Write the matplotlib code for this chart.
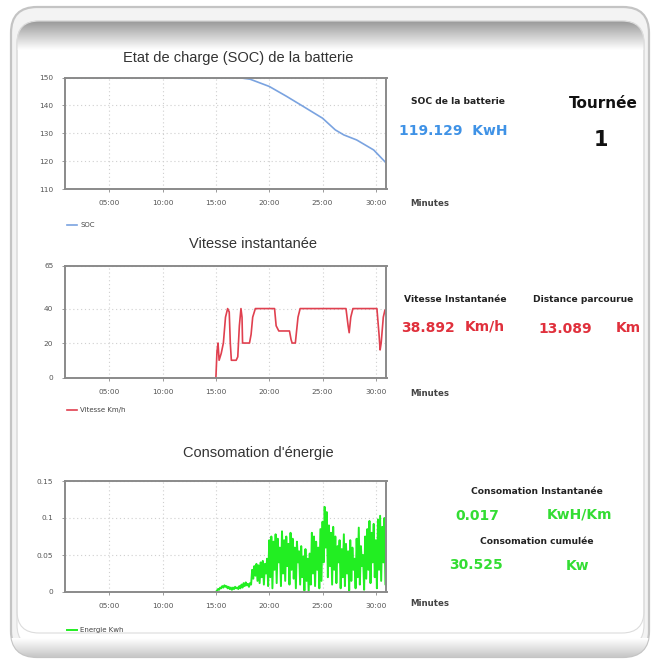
import numpy as np
import matplotlib
matplotlib.use("Agg")
import matplotlib.pyplot as plt
from matplotlib.patches import FancyBboxPatch
from matplotlib.ticker import FuncFormatter, FixedLocator

# ---------------- data ----------------
soc_t = [0.8, 5, 10, 15, 17.0, 18.2, 20.0, 21.6, 23.2, 25.0, 26.2, 27.0, 28.2, 29.8, 31.0]
soc_v = [150, 150, 150, 150, 150, 149.4, 146.8, 143.3, 139.6, 135.4, 131.2, 129.4, 127.6, 124.0, 119.2]

spd_t = [15.0, 15.1, 15.2, 15.3, 15.5, 15.7, 15.9, 16.1, 16.25, 16.35, 16.45, 16.9, 17.05, 17.2,
         17.35, 17.45, 17.5, 18.15, 18.3, 18.45, 18.7, 20.5, 20.65, 20.9, 21.9, 22.05, 22.15,
         22.45, 22.7, 22.9, 27.2, 27.4, 27.5, 27.65, 27.85, 30.1, 30.3, 30.4, 30.5, 30.7, 30.85]
spd_v = [0, 15, 20, 10, 14, 20, 35, 40, 38, 20, 10, 10, 12, 30,
         40, 35, 20, 20, 25, 35, 40, 40, 30, 27, 27, 22, 20,
         20, 35, 40, 40, 30, 26, 35, 40, 40, 25, 16, 20, 35, 39]

en_start = 15.0
en_step = 0.1
en_v = [0.000, 0.002, 0.004, 0.003, 0.006, 0.005, 0.008, 0.006, 0.009, 0.007,
        0.008, 0.005, 0.007, 0.004, 0.006, 0.003, 0.006, 0.004, 0.007, 0.005,
        0.006, 0.004, 0.008, 0.005, 0.010, 0.006, 0.012, 0.008, 0.013, 0.009,
        0.011, 0.007, 0.012, 0.010, 0.030, 0.018, 0.035, 0.022, 0.038, 0.015,
        0.036, 0.012, 0.040, 0.020, 0.042, 0.010, 0.038, 0.025, 0.045, 0.008,
        0.070, 0.020, 0.075, 0.005, 0.068, 0.030, 0.078, 0.012, 0.072, 0.040,
        0.060, 0.008, 0.082, 0.025, 0.070, 0.015, 0.075, 0.035, 0.065, 0.010,
        0.080, 0.030, 0.072, 0.018, 0.060, 0.005, 0.068, 0.040, 0.055, 0.010,
        0.062, 0.020, 0.048, 0.002, 0.058, 0.015, 0.045, 0.000, 0.052, 0.010,
        0.080, 0.025, 0.075, 0.008, 0.068, 0.030, 0.060, 0.005, 0.085, 0.015,
        0.095, 0.040, 0.115, 0.060, 0.108, 0.020, 0.090, 0.035, 0.080, 0.010,
        0.088, 0.030, 0.075, 0.012, 0.062, 0.040, 0.070, 0.005, 0.058, 0.020,
        0.078, 0.008, 0.065, 0.025, 0.055, 0.002, 0.070, 0.015, 0.060, 0.030,
        0.045, 0.005, 0.072, 0.020, 0.087, 0.010, 0.062, 0.035, 0.050, 0.003,
        0.075, 0.018, 0.085, 0.030, 0.096, 0.012, 0.080, 0.040, 0.092, 0.020,
        0.070, 0.005, 0.098, 0.030, 0.103, 0.015, 0.088, 0.040, 0.100, 0.010,
        0.085]
en_t = en_start + en_step * np.arange(len(en_v))

x_ticks = [5, 10, 15, 20, 25, 30]
soc_yticks = [110, 120, 130, 140, 150]
spd_yticks = [0, 20, 40, 65]
en_yticks = [0, 0.05, 0.1, 0.15]

# ---------------- figure ----------------
W, H = 656, 662
fig = plt.figure(figsize=(W / 100, H / 100), dpi=100)
fig.patch.set_facecolor("white")

bg = fig.add_axes([0, 0, 1, 1], zorder=-5)
bg.set_xlim(0, W)
bg.set_ylim(H, 0)
bg.axis("off")

outer = FancyBboxPatch((11, 7), 638, 650, boxstyle="round,pad=0,rounding_size=26",
                       fc="#f3f3f3", ec="#c4c4c4", lw=1.6)
bg.add_patch(outer)
inner = FancyBboxPatch((17, 21), 627, 626, boxstyle="round,pad=0,rounding_size=22",
                       fc="white", ec="#dcdcdc", lw=0.8)
bg.add_patch(inner)
grad = np.linspace(0.60, 1.0, 64).reshape(-1, 1)
im = bg.imshow(grad, extent=[17, 644, 50, 21], cmap="gray", vmin=0, vmax=1,
               aspect="auto", interpolation="bicubic", zorder=2)
im.set_clip_path(inner)
bot = np.linspace(1.0, 0.78, 32).reshape(-1, 1)
im2 = bg.imshow(bot, extent=[11, 649, 657, 638], cmap="gray", vmin=0, vmax=1,
                aspect="auto", interpolation="bicubic", zorder=1)
im2.set_clip_path(outer)
bg.add_patch(FancyBboxPatch((17, 21), 627, 612, boxstyle="round,pad=0,rounding_size=22",
                            fc="none", ec="#dcdcdc", lw=0.8, zorder=3))

tick_fmt = FuncFormatter(lambda v, p: f"{int(round(v)):02d}:00")


def make_axes(top_px, bot_px):
    l, r = 64.5, 386.5
    ax = fig.add_axes([l / W, (H - bot_px) / H, (r - l) / W, (bot_px - top_px) / H])
    ax.set_xlim(0.8, 31.0)
    ax.xaxis.set_major_locator(FixedLocator(x_ticks))
    ax.xaxis.set_major_formatter(tick_fmt)
    for s in ax.spines.values():
        s.set_color("#8a8a8a")
        s.set_linewidth(1.4)
    ax.grid(True, linestyle=(0, (1, 2.5)), color="#cfcfcf", linewidth=0.8)
    ax.tick_params(length=2, width=0.6, color="#8a8a8a", labelsize=5.3,
                   labelcolor="#555555", pad=6)
    for lab in ax.get_xticklabels() + ax.get_yticklabels():
        lab.set_family("DejaVu Sans")
    return ax


def legend(ax, bot_px, y_px, label):
    h = ax.get_position().height * H
    ax.legend([label], loc="center left",
              bbox_to_anchor=((67 - 64.5) / 322, -(y_px - bot_px) / h),
              frameon=False, fontsize=5, handlelength=1.4, handletextpad=0.5,
              borderpad=0, borderaxespad=0, labelcolor="#444444")


title_kw = dict(family="Liberation Sans", size=10.5, color="#333333")

# chart 1
ax1 = make_axes(77.5, 189)
ax1.plot(soc_t, soc_v, color="#7aa3e0", lw=1.2, label="SOC")
ax1.set_ylim(110, 150)
ax1.set_yticks(soc_yticks)
legend(ax1, 189, 225, "SOC")
bg.text(238, 58, "Etat de charge (SOC) de la batterie", ha="center", va="center", **title_kw)

# chart 2
ax2 = make_axes(265.5, 377.5)
ax2.plot(spd_t, spd_v, color="#e0404f", lw=1.2, label="Vitesse Km/h")
ax2.set_ylim(0, 65)
ax2.set_yticks(spd_yticks)
legend(ax2, 377.5, 410, "Vitesse Km/h")
bg.text(253, 244, "Vitesse instantanée", ha="center", va="center", **title_kw)

# chart 3
ax3 = make_axes(481, 592)
ax3.plot(en_t, en_v, color="#22ee22", lw=1.4, label="Energie Kwh")
ax3.set_ylim(0, 0.15)
ax3.set_yticks(en_yticks)
ax3.yaxis.set_major_formatter(FuncFormatter(lambda v, p: f"{v:g}"))
legend(ax3, 592, 630, "Energie Kwh")
bg.text(258, 453, "Consomation d'énergie", ha="center", va="center", **title_kw)

for y in (203, 393, 604):
    bg.text(410, y, "Minutes", ha="left", va="center", fontsize=6.2,
            color="#444444", family="DejaVu Sans", fontweight="bold")

# right-side readouts
lab_kw = dict(ha="center", va="center", fontsize=6.6, color="#222222",
              family="DejaVu Sans", fontweight="bold")
val_kw = dict(ha="center", va="center", fontsize=10, family="DejaVu Sans",
              fontweight="bold")

bg.text(458, 102, "SOC de la batterie", **lab_kw)
bg.text(453, 131, "119.129  KwH", color="#3f92e6", **val_kw)
bg.text(603, 103, "Tournée", ha="center", va="center", fontsize=11,
        family="DejaVu Sans", fontweight="bold", color="#111111")
bg.text(601, 140, "1", ha="center", va="center", fontsize=15,
        family="DejaVu Sans", fontweight="bold", color="#111111")

bg.text(455, 300, "Vitesse Instantanée", **lab_kw)
bg.text(583, 300, "Distance parcourue", **lab_kw)
bg.text(428, 328, "38.892", color="#e0303c", **val_kw)
bg.text(485, 327, "Km/h", color="#e0303c", **val_kw)
bg.text(565, 329, "13.089", color="#e0303c", **val_kw)
bg.text(628, 328, "Km", color="#e0303c", **val_kw)

bg.text(537, 492, "Consomation Instantanée", **lab_kw)
bg.text(537, 542, "Consomation cumulée", **lab_kw)
bg.text(477, 516, "0.017", color="#33dd33", **val_kw)
bg.text(580, 514, "KwH/Km", color="#33dd33", **val_kw)
bg.text(476, 565, "30.525", color="#33dd33", **val_kw)
bg.text(578, 566, "Kw", color="#33dd33", **val_kw)

fig.savefig("out.png", dpi=100, facecolor="white")
